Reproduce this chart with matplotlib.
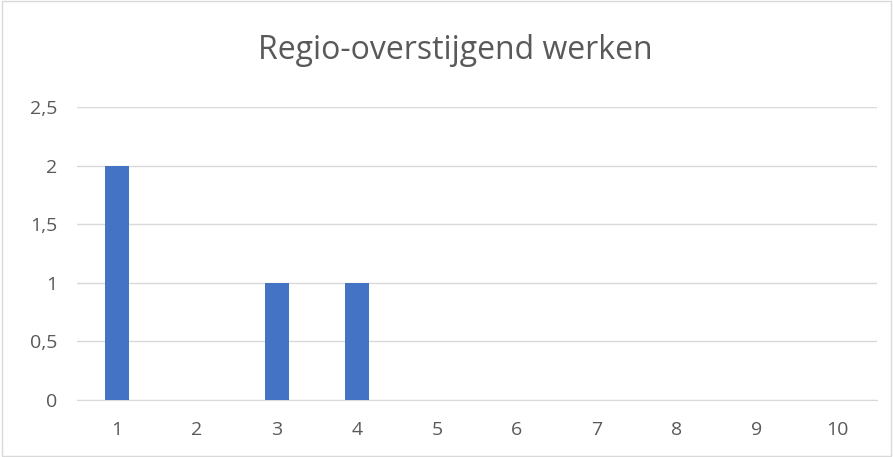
import matplotlib.pyplot as plt
from matplotlib.patches import Rectangle

# data
categories = ["1", "2", "3", "4", "5", "6", "7", "8", "9", "10"]
values = [2, 0, 1, 1, 0, 0, 0, 0, 0, 0]
y_ticks = [0, 0.5, 1, 1.5, 2, 2.5]
y_tick_labels = ["0", "0,5", "1", "1,5", "2", "2,5"]

plt.rcParams['font.family'] = ['Open Sans', 'DejaVu Sans']

fig = plt.figure(figsize=(8.93, 4.57), dpi=100)
ax = fig.add_axes([77 / 893, 1 - 400 / 457, 800 / 893, 293 / 457])

x = list(range(len(categories)))
ax.bar(x, values, width=0.3, color="#4472C4", zorder=3)

ax.set_xlim(-0.5, len(categories) - 0.5)
ax.set_ylim(0, 2.5)
ax.set_xticks(x)
ax.set_xticklabels(categories)
ax.set_yticks(y_ticks)
ax.set_yticklabels(y_tick_labels)
ax.tick_params(length=0, labelsize=14, colors="#595959")
ax.tick_params(axis="y", pad=14)
ax.tick_params(axis="x", pad=15)
ax.grid(axis="y", color="#D9D9D9", linewidth=1, zorder=0)
for side in ["top", "right", "left"]:
    ax.spines[side].set_visible(False)
ax.spines["bottom"].set_color("#D9D9D9")

fig.text(455 / 893, 1 - 59 / 457, "Regio-overstijgend werken",
         ha="center", va="baseline", fontsize=23, color="#595959")

# outer chart border
fig.patches.append(Rectangle((0.002, 0.002), 0.996, 0.996, transform=fig.transFigure,
                             fill=False, edgecolor="#D9D9D9", linewidth=1))

fig.savefig("out.png", dpi=100)
